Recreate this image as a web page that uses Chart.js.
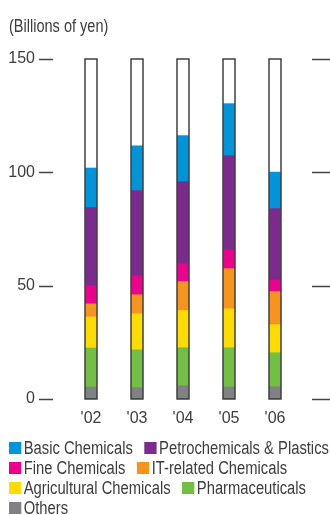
<!DOCTYPE html>
<html>
<head>
<meta charset="utf-8">
<script src="https://cdn.jsdelivr.net/npm/chart.js@4.4.1/dist/chart.umd.min.js"></script>
<style>
  html, body { margin: 0; padding: 0; background: #fff; }
  body {
    width: 330px; height: 515px; overflow: hidden; position: relative;
    font-family: 'Liberation Sans', Arial, sans-serif;
    color: #3d3d3d;
  }
  #wrap { position: absolute; left: 0; top: 0; width: 330px; height: 515px; }
  /* the labels are set in a narrow face; squeeze the regular one to match */
  #unit {
    position: absolute; left: 9px; top: 16px; font-size: 17.5px; white-space: nowrap;
    transform: scaleX(0.83); transform-origin: 0 0;
  }
  #legend {
    position: absolute; left: 9px; top: 438px; font-size: 18px; line-height: 20px;
    transform: scaleX(0.82); transform-origin: 0 0;
  }
  .row { display: flex; white-space: nowrap; }
  .item { display: flex; align-items: center; margin-right: 14px; }
  .swatch { width: 14.5px; height: 12px; margin-right: 3.5px; }
</style>
</head>
<body>
<div id="wrap"><canvas id="chart" width="330" height="515"></canvas></div>
<div id="unit">(Billions of yen)</div>
<div id="legend"></div>
<script>
const years = ["'02", "'03", "'04", "'05", "'06"];
const others = [5.3, 5.0, 5.9, 5.3, 5.4];
const pharmaceuticals = [17.2, 16.7, 16.7, 17.3, 15.0];
const agricultural = [13.7, 15.9, 16.4, 17.2, 12.4];
const itRelated = [5.8, 8.4, 12.8, 17.7, 14.6];
const fineChemicals = [8.0, 8.4, 7.9, 8.4, 5.2];
const petrochemicals = [34.5, 37.5, 36.2, 41.5, 31.4];
const basicChemicals = [17.4, 19.8, 20.3, 22.9, 16.1];
const yMax = 150;
const yStep = 50;

const textColor = '#3d3d3d';
const fontFamily = "'Liberation Sans', Arial, sans-serif";

// stacked bottom-up, so "Others" goes first
const series = [
  { label: 'Others', data: others, color: '#808184' },
  { label: 'Pharmaceuticals', data: pharmaceuticals, color: '#72bf44' },
  { label: 'Agricultural Chemicals', data: agricultural, color: '#ffdc00' },
  { label: 'IT-related Chemicals', data: itRelated, color: '#f7941d' },
  { label: 'Fine Chemicals', data: fineChemicals, color: '#ec008c' },
  { label: 'Petrochemicals & Plastics', data: petrochemicals, color: '#7d2a8f' },
  { label: 'Basic Chemicals', data: basicChemicals, color: '#0095da' }
];

// outline box from 0 up to the axis max around every column
const barFrame = {
  id: 'barFrame',
  afterDatasetsDraw(chart) {
    const { ctx } = chart;
    const y = chart.scales.y;
    const top = y.getPixelForValue(y.max);
    const bottom = y.getPixelForValue(0);
    const bars = chart.getDatasetMeta(0).data;
    ctx.save();
    ctx.strokeStyle = '#333';
    ctx.lineWidth = 1.4;
    bars.forEach(bar => {
      const half = bar.width / 2 + 0.5;
      ctx.strokeRect(bar.x - half, top, half * 2, bottom - top);
    });
    ctx.restore();
  }
};

// short dashes beside the tick labels and at the right edge
const tickDashes = {
  id: 'tickDashes',
  afterDraw(chart) {
    const { ctx, chartArea } = chart;
    const y = chart.scales.y;
    ctx.save();
    ctx.strokeStyle = '#444';
    ctx.lineWidth = 1.4;
    y.ticks.forEach(t => {
      const py = Math.round(y.getPixelForValue(t.value)) + 0.5;
      ctx.beginPath();
      ctx.moveTo(chartArea.left - 29, py);
      ctx.lineTo(chartArea.left - 15, py);
      ctx.moveTo(chartArea.right + 14, py);
      ctx.lineTo(chart.width, py);
      ctx.stroke();
    });
    ctx.restore();
  }
};

const chart = new Chart(document.getElementById('chart'), {
  type: 'bar',
  data: {
    labels: years,
    datasets: series.map(s => ({
      label: s.label,
      data: s.data,
      backgroundColor: s.color,
      borderWidth: 0,
      barThickness: 11
    }))
  },
  options: {
    responsive: false,
    animation: false,
    layout: { padding: { top: 59, right: 32, bottom: 0, left: 0 } },
    plugins: {
      legend: { display: false },
      tooltip: { enabled: false }
    },
    scales: {
      x: {
        stacked: true,
        grid: { display: false, drawTicks: false },
        border: { display: false },
        ticks: { color: textColor, padding: 10, font: { family: fontFamily, size: 16 } },
        afterFit(scale) { scale.height = 116; }
      },
      y: {
        stacked: true,
        min: 0,
        max: yMax,
        grid: { display: false, drawTicks: false },
        border: { display: false },
        ticks: { stepSize: yStep, color: textColor, padding: 33, font: { family: fontFamily, size: 16 } },
        afterFit(scale) { scale.width = 68; }
      }
    }
  },
  plugins: [barFrame, tickDashes]
});

// legend laid out two entries per row, top series first
const legendEl = document.getElementById('legend');
const ordered = chart.data.datasets.slice().reverse();
for (let i = 0; i < ordered.length; i += 2) {
  const row = document.createElement('div');
  row.className = 'row';
  ordered.slice(i, i + 2).forEach(ds => {
    const item = document.createElement('span');
    item.className = 'item';
    const sw = document.createElement('span');
    sw.className = 'swatch';
    sw.style.background = ds.backgroundColor;
    item.appendChild(sw);
    item.appendChild(document.createTextNode(ds.label));
    row.appendChild(item);
  });
  legendEl.appendChild(row);
}
</script>
</body>
</html>
